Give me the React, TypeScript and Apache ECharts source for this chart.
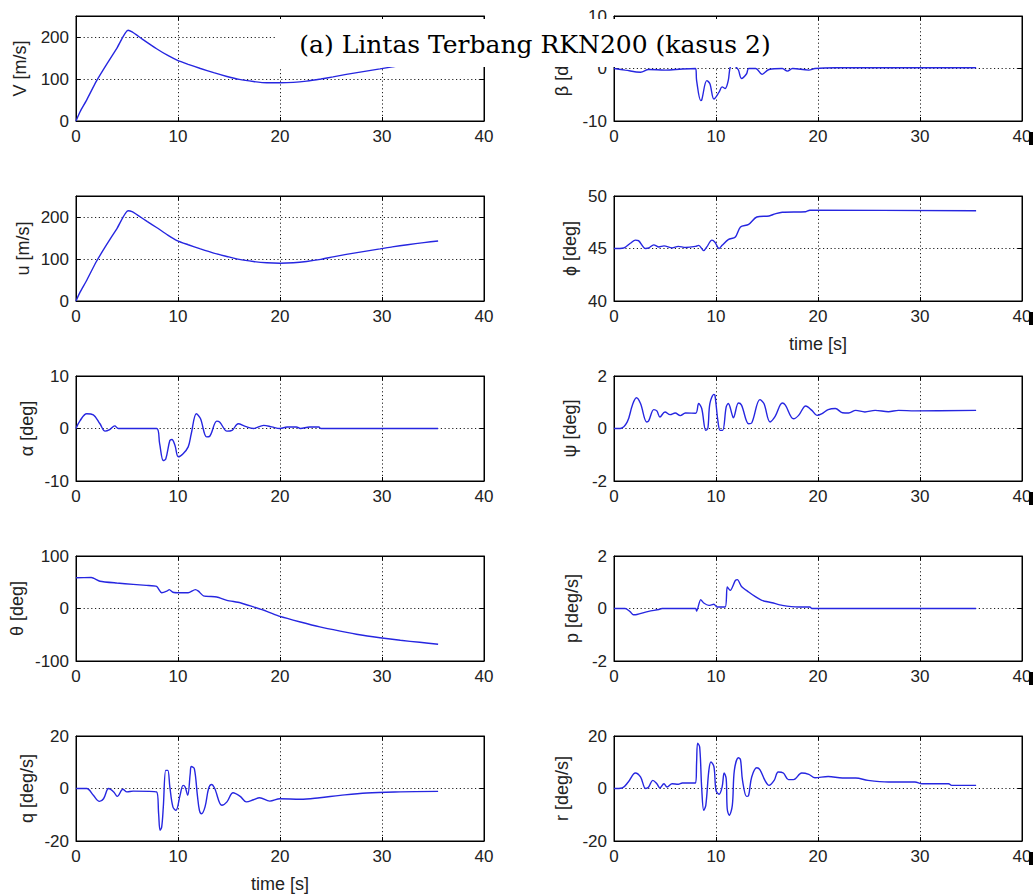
import React, { useEffect, useRef } from "react";
import * as echarts from "echarts";

// ---- data (time [s], value) ----
const V_DATA = [[0,0],[0.4,22],[1,48],[2,95],[3,135],[4,173],[5.1,216],[5.5,212],[6.5,195],[7.9,172],[9,156],[9.9,145],[11,135],[12.2,125],[13.5,115],[14.8,106],[16,99],[17.4,94],[18.7,91],[20,91],[21.3,92],[22.6,95],[24,100],[25.2,105],[26.5,111],[28,117],[29.8,124],[31,129],[32.5,135],[34.1,140],[35.5,145]];
const U_DATA = [[0,0],[0.4,21],[1,47],[2,94],[3,134],[4,172],[5.1,215],[5.5,213],[6,205],[7,189],[7.9,175],[9,157],[9.9,144],[11,134],[12.2,124],[13.5,114],[14.8,106],[16,99],[17.4,94],[18.7,91],[20,90],[21.3,91],[22.6,94],[24,99],[25.2,105],[26.5,111],[28,117],[29.8,124],[31,129],[32.5,134],[34.1,139],[35.5,143]];
const ALPHA_DATA = [[0,0],[0.4,1.5],[1.05,2.8],[1.7,2.6],[2.35,0.9],[2.85,-0.5],[3.3,-0.2],[3.8,0.5],[4.15,0],[7.9,0],[8.2,-2.9],[8.56,-6.1],[8.8,-5.8],[9.2,-2.3],[9.4,-2.1],[9.7,-3.2],[10.03,-5.4],[10.5,-4.8],[11,-3.5],[11.3,-1],[11.8,2.8],[12.2,1.9],[12.8,-1.6],[13.1,-1.5],[13.8,1.4],[14.1,1.2],[14.8,-0.5],[15.3,-0.35],[15.9,0.9],[16.6,0.4],[17.4,0],[18.4,0.6],[19.2,0.3],[20,0],[20.7,0.3],[21.6,0.3],[22,0],[22.9,0.3],[23.8,0.3],[24,0],[35.5,0]];
const THETA_DATA = [[0,58.7],[1.5,59],[2.35,52],[4,48.5],[5.6,46],[6.9,44],[7.9,42],[8.4,30],[8.9,33],[9.15,36],[9.5,31],[10.2,30],[11,30],[11.7,36],[12,33],[12.5,24],[13.8,22],[14.8,15.5],[16.1,11],[17.4,3],[18.7,-5.4],[20,-15],[22,-25.7],[23.9,-35],[25.9,-43],[27.8,-50],[29.8,-55.6],[31.8,-60.6],[33.7,-64.4],[35.5,-68]];
const Q_DATA = [[0,0],[1.05,0],[1.7,-2.6],[2.3,-4.9],[2.7,-3.9],[3.2,0],[3.7,-1.3],[4.05,-3],[4.6,-0.3],[5,-1.3],[5.6,-1],[7.9,-1.3],[8.1,-9.6],[8.24,-15.9],[8.4,-14.7],[8.56,-7],[8.8,6.9],[9,6.9],[9.2,0.6],[9.5,-7],[9.8,-8.3],[10.2,-2.6],[10.5,1.2],[10.7,0.6],[10.95,-2.6],[11.2,5.7],[11.3,8.4],[11.6,7.6],[11.9,-2.6],[12.1,-8.3],[12.3,-9.6],[12.65,-7],[13,0],[13.3,1.5],[13.6,0],[14.3,-6.4],[14.8,-5.1],[15.4,-1.6],[16.1,-3],[16.7,-5.1],[17.4,-4.3],[18,-3.5],[19,-4.8],[20,-3.9],[22,-4.1],[23.9,-3.5],[25.9,-2.6],[28.5,-1.7],[31.8,-1.3],[35.5,-1.1]];
const BETA_DATA = [[0,0],[1.1,-0.3],[2.6,-0.7],[3.4,-0.2],[5,-0.3],[6.7,-0.1],[8,0],[8.1,-2.3],[8.5,-6.1],[8.6,-6],[9.1,-2.3],[9.4,-2.9],[9.8,-5.8],[10.3,-4.5],[10.6,-3.5],[10.9,-3.8],[11.2,-2.3],[11.4,0.3],[11.7,0.8],[12,0.2],[12.2,-0.3],[12.5,-1.9],[13,-1],[13.2,0],[13.9,0],[14.5,-1.1],[15.2,-0.2],[16.5,0],[17,-0.5],[17.5,0],[19.1,-0.3],[19.7,0],[21.7,0.15],[35.5,0.15]];
const PHI_DATA = [[0,45],[0.95,45.05],[1.6,45.5],[2.1,45.8],[2.4,45.75],[3.1,45],[3.4,45.05],[3.9,45.35],[4.4,45.15],[4.9,45.25],[5.7,45.05],[6.3,45.2],[7,45.1],[8,45.2],[8.3,45.3],[8.8,44.8],[9.1,45.15],[9.6,45.8],[9.9,45.6],[10.3,45],[10.6,45.3],[11.2,45.85],[11.9,46.1],[12.4,47.05],[13.2,47.3],[14,48],[15.2,48.1],[15.8,48.3],[16.5,48.45],[18.8,48.5],[19.2,48.65],[35.5,48.6]];
const PSI_DATA = [[0,0],[0.6,0],[1.3,0.25],[1.8,0.89],[2.2,1.17],[2.6,0.95],[3.2,0.25],[3.4,0.29],[3.9,0.72],[4.2,0.67],[4.5,0.44],[5,0.63],[5.5,0.53],[6,0.59],[6.5,0.49],[7,0.59],[8,0.58],[8.3,0.95],[8.6,0.76],[9,-0.07],[9.2,0],[9.4,0.95],[9.8,1.3],[9.9,1.26],[10.2,0.25],[10.4,-0.07],[10.65,-0.07],[11,0.82],[11.2,0.95],[11.6,0.5],[11.7,0.41],[12.2,0.97],[12.5,0.89],[13.2,0.18],[13.5,0.21],[14.3,1.1],[14.7,0.95],[15.3,0.25],[15.8,0.46],[16.5,0.97],[16.8,0.89],[17.6,0.37],[18.1,0.5],[18.8,0.86],[19.4,0.69],[19.9,0.5],[20.4,0.57],[21,0.72],[21.7,0.76],[22.4,0.6],[23,0.59],[23.7,0.69],[24.6,0.63],[25.6,0.69],[26.9,0.64],[27.9,0.69],[29.5,0.67],[35.5,0.69]];
const P_DATA = [[0,0],[1.1,0],[1.6,-0.13],[1.9,-0.24],[2.25,-0.23],[3.4,-0.11],[4.4,-0.04],[4.7,0],[8,0],[8.1,-0.1],[8.5,0.34],[8.8,0.21],[9.3,0.12],[9.8,0.16],[10.1,0.06],[10.9,0.06],[11.1,0.82],[11.4,0.69],[11.9,1.07],[12.1,1.1],[12.5,0.84],[13.2,0.63],[13.9,0.44],[14.5,0.31],[15.5,0.22],[16.5,0.12],[18.1,0.06],[19.2,0.06],[19.4,0],[35.5,0]];
const R_DATA = [[0,0],[0.8,0.2],[1.4,2.5],[2.1,5.9],[2.6,4.4],[3.1,0],[3.4,0.6],[3.8,3.1],[4.2,1.8],[4.5,0.2],[4.9,1.8],[5.2,0.6],[5.7,1.8],[6.3,1.6],[6.7,2.1],[8,2.1],[8.1,10.1],[8.2,17.3],[8.4,15.8],[8.6,0],[8.8,-8.3],[9,-6.4],[9.3,6.9],[9.5,10.1],[9.8,8.2],[10,-0.7],[10.3,-2.2],[10.6,0.6],[10.8,5.9],[11,3.7],[11.1,-7.7],[11.3,-10.2],[11.6,-6.4],[11.8,6.9],[12.2,11.7],[12.4,11],[12.6,3.1],[13,-3],[13.2,-2.6],[13.5,4.4],[14,7.9],[14.3,7.2],[14.8,3.1],[15.2,1.2],[15.7,3.1],[16.1,6.3],[16.6,5.9],[17.1,3.4],[17.6,3.4],[18.4,5.9],[19.1,5.4],[19.7,4.1],[21,4.6],[22.4,4],[23.7,4],[24.9,3.1],[26.9,2.5],[29.5,2.5],[30.2,1.8],[32.8,1.8],[33.1,1.2],[35.5,1.2]];

const TIME_MIN = 0;
const TIME_MAX = 40;
const TIME_STEP = 10;
const TITLE = "(a) Lintas Terbang RKN200 (kasus 2)";
const TIME_LABEL = "time [s]";

type Panel = { label: string; data: number[][]; min: number; max: number; step: number; col: number; row: number; gap: number; smooth: number; xName?: string };

const PANELS: Panel[] = [
  { label: "V [m/s]", data: V_DATA, min: 0, max: 250, step: 100, col: 0, row: 0, gap: 47, smooth: 0.2 },
  { label: "u [m/s]", data: U_DATA, min: 0, max: 250, step: 100, col: 0, row: 1, gap: 44, smooth: 0.2 },
  { label: "α [deg]", data: ALPHA_DATA, min: -10, max: 10, step: 10, col: 0, row: 2, gap: 40, smooth: 0.35 },
  { label: "θ [deg]", data: THETA_DATA, min: -100, max: 100, step: 100, col: 0, row: 3, gap: 50, smooth: 0.2 },
  { label: "q [deg/s]", data: Q_DATA, min: -20, max: 20, step: 20, col: 0, row: 4, gap: 40, smooth: 0.35, xName: TIME_LABEL },
  { label: "β [deg]", data: BETA_DATA, min: -10, max: 10, step: 10, col: 1, row: 0, gap: 43, smooth: 0.35 },
  { label: "ϕ [deg]", data: PHI_DATA, min: 40, max: 50, step: 5, col: 1, row: 1, gap: 35, smooth: 0.3, xName: TIME_LABEL },
  { label: "ψ [deg]", data: PSI_DATA, min: -2, max: 2, step: 2, col: 1, row: 2, gap: 35, smooth: 0.35 },
  { label: "p [deg/s]", data: P_DATA, min: -2, max: 2, step: 2, col: 1, row: 3, gap: 33, smooth: 0.25 },
  { label: "r [deg/s]", data: R_DATA, min: -20, max: 20, step: 20, col: 1, row: 4, gap: 43, smooth: 0.35 },
];

const FONT = "'Liberation Sans', Arial, sans-serif";
const LBL = { fontSize: 17, fontFamily: FONT, color: "#222" };
const GRIDLINE = { type: [1.2, 2.6] as any, color: "#222", width: 1 };
const AXLINE = { show: true, onZero: false, lineStyle: { color: "#000", width: 1 } };
const TICK = { show: true, inside: true, length: 4, lineStyle: { color: "#000" } };

export default function App() {
  const ref = useRef<HTMLDivElement>(null);
  useEffect(() => {
    if (!ref.current) return;
    const chart = echarts.init(ref.current, undefined, { renderer: "svg" });
    const grids: any[] = [];
    const xAxes: any[] = [];
    const yAxes: any[] = [];
    const series: any[] = [];
    PANELS.forEach((p, i) => {
      grids.push({
        left: p.col === 0 ? 76 : 614,
        top: 16 + 180 * p.row,
        width: 408,
        height: 105,
        show: true,
        borderColor: "#000",
        borderWidth: 1,
        backgroundColor: "transparent",
      });
      xAxes.push({
        gridIndex: i, type: "value", position: "bottom", min: TIME_MIN, max: TIME_MAX, interval: TIME_STEP,
        axisLine: AXLINE, axisTick: TICK,
        axisLabel: { ...LBL, margin: 7 },
        splitLine: { show: true, lineStyle: GRIDLINE },
        name: p.xName || "", nameLocation: "middle", nameGap: 34,
        nameTextStyle: { fontSize: 18, fontFamily: FONT, color: "#222" },
      });
      xAxes.push({
        gridIndex: i, type: "value", position: "top", min: TIME_MIN, max: TIME_MAX, interval: TIME_STEP,
        axisLine: AXLINE, axisTick: TICK, axisLabel: { show: false }, splitLine: { show: false },
      });
      yAxes.push({
        gridIndex: i, type: "value", position: "left", min: p.min, max: p.max, interval: p.step,
        axisLine: AXLINE, axisTick: TICK,
        axisLabel: { ...LBL, margin: 7, showMaxLabel: p.max % p.step === 0 },
        splitLine: { show: true, lineStyle: GRIDLINE },
        name: p.label, nameLocation: "middle", nameGap: p.gap,
        nameTextStyle: { fontSize: 18, fontFamily: FONT, color: "#222" },
      });
      yAxes.push({
        gridIndex: i, type: "value", position: "right", min: p.min, max: p.max, interval: p.step,
        axisLine: AXLINE, axisTick: TICK, axisLabel: { show: false }, splitLine: { show: false },
      });
      series.push({
        type: "line", xAxisIndex: 2 * i, yAxisIndex: 2 * i, data: p.data,
        showSymbol: false, smooth: p.smooth, silent: true,
        lineStyle: { color: "#2626e0", width: 1.4 },
      });
    });
    const artifacts = [0, 1, 2, 3, 4].map((r) => ({
      type: "rect", z: 100, shape: { x: 1029, y: 132 + 180 * r, width: 4, height: 13 }, style: { fill: "#000" },
    }));
    chart.setOption({
      animation: false,
      backgroundColor: "#fff",
      grid: grids,
      xAxis: xAxes,
      yAxis: yAxes,
      series,
      graphic: [
        { type: "rect", z: 100, shape: { x: 277, y: 19, width: 498, height: 48 }, style: { fill: "#fff" } },
        {
          type: "text", z: 101, x: 535, y: 44,
          style: { text: TITLE, font: "25px 'DejaVu Serif', serif", fill: "#000", align: "center", verticalAlign: "middle", textAlign: "center", textVerticalAlign: "middle" },
        },
        ...artifacts,
      ],
    });
    return () => chart.dispose();
  }, []);
  return <div ref={ref} style={{ position: "fixed", left: 0, top: 0, width: 1035, height: 896, background: "#fff" }} />;
}
